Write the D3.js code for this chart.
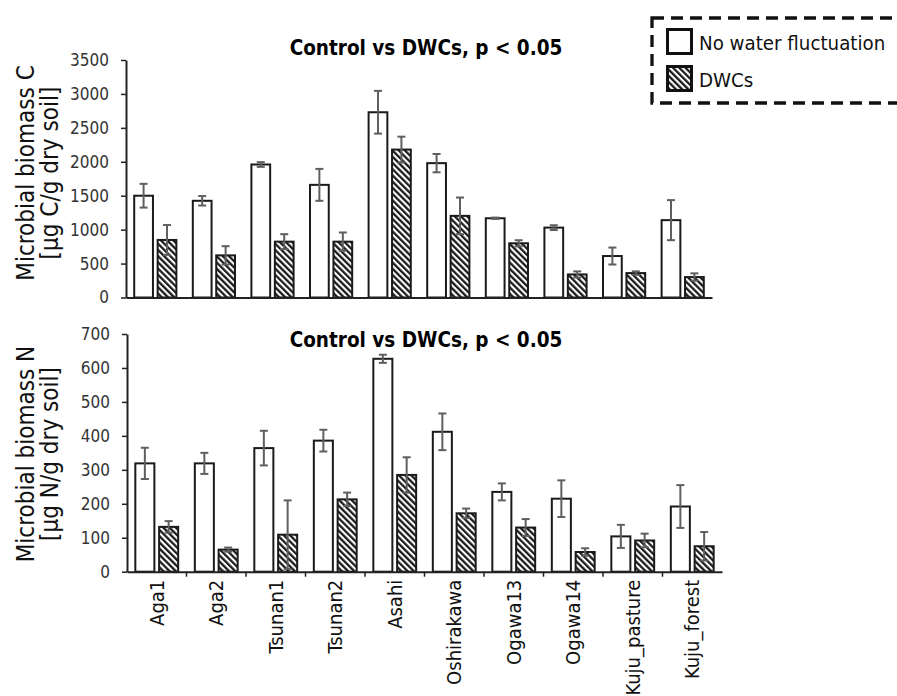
<!DOCTYPE html>
<html>
<head>
<meta charset="utf-8">
<script src="https://cdn.jsdelivr.net/npm/d3@7"></script>
<style>
  body { margin: 0; background: white; }
  text { font-family: "DejaVu Sans Condensed", "DejaVu Sans", sans-serif; font-stretch: condensed; }
</style>
</head>
<body>
<div id="chart"></div>
<script>
// 1: DATA
const sites = ["Aga1", "Aga2", "Tsunan1", "Tsunan2", "Asahi", "Oshirakawa", "Ogawa13", "Ogawa14", "Kuju_pasture", "Kuju_forest"];
const seriesNames = ["No water fluctuation", "DWCs"];

const carbonControl = [1500, 1425, 1960, 1660, 2730, 1980, 1168, 1030, 611, 1140];
const carbonControlErr = [175, 70, 35, 235, 315, 135, 10, 35, 125, 295];
const carbonDWC = [848, 621, 823, 823, 2180, 1203, 799, 340, 360, 301];
const carbonDWCErr = [220, 135, 110, 135, 190, 270, 45, 45, 25, 55];

const nitrogenControl = [319, 319, 364, 386, 627, 412, 235, 215, 104, 192];
const nitrogenControlErr = [46, 31, 51, 32, 12, 54, 25, 54, 34, 63];
const nitrogenDWC = [132, 65, 109, 213, 285, 172, 130, 58, 92, 75];
const nitrogenDWCErr = [17, 6, 101, 20, 52, 14, 25, 11, 20, 42];

const carbonTicks = [0, 500, 1000, 1500, 2000, 2500, 3000, 3500];
const nitrogenTicks = [0, 100, 200, 300, 400, 500, 600, 700];

const titleText = "Control vs DWCs, p < 0.05";

// 2: SVG
const W = 897, H = 696;
const svg = d3.select("#chart")
    .append("svg")
    .attr("width", W)
    .attr("height", H);

// hatch pattern for DWCs bars
svg.append("defs").append("pattern")
    .attr("id", "hatch")
    .attr("patternUnits", "userSpaceOnUse")
    .attr("width", 4.4)
    .attr("height", 4.4)
    .attr("patternTransform", "rotate(-45)")
    .call(p => {
        p.append("rect").attr("width", 4.4).attr("height", 4.4).attr("fill", "white");
        p.append("line").attr("x1", 1.2).attr("x2", 1.2).attr("y1", 0).attr("y2", 4.4)
            .attr("stroke", "#111").attr("stroke-width", 2.2);
    });

// 3: ONE PANEL
function drawPanel(cfg) {
    const x = d3.scaleBand().domain(sites).range(cfg.xRange).padding(0);
    const y = d3.scaleLinear().domain([0, cfg.max]).range(cfg.yRange);
    const bw = x.bandwidth();
    const barW = bw * 0.32, gap = bw * 0.08;

    const rows = sites.map((s, i) => ({
        site: s,
        bars: [
            { v: cfg.control[i], e: cfg.controlErr[i], fill: "white", off: -gap / 2 - barW },
            { v: cfg.dwc[i], e: cfg.dwcErr[i], fill: "url(#hatch)", off: gap / 2 }
        ]
    }));

    const g = svg.append("g");

    // bars
    const grp = g.selectAll(".site")
        .data(rows)
        .enter()
        .append("g")
        .attr("transform", d => `translate(${x(d.site) + bw / 2},0)`);

    grp.selectAll("rect")
        .data(d => d.bars)
        .enter()
        .append("rect")
        .attr("x", d => d.off)
        .attr("y", d => y(d.v))
        .attr("width", barW)
        .attr("height", d => y(0) - y(d.v))
        .attr("fill", d => d.fill)
        .attr("stroke", "#1a1a1a")
        .attr("stroke-width", 2);

    // error bars
    const eb = grp.selectAll(".err")
        .data(d => d.bars)
        .enter()
        .append("g")
        .attr("stroke", "#5f5f5f")
        .attr("stroke-width", 2);
    eb.append("line")
        .attr("x1", d => d.off + barW / 2).attr("x2", d => d.off + barW / 2)
        .attr("y1", d => y(d.v + d.e)).attr("y2", d => y(Math.max(0, d.v - d.e)));
    eb.append("line")
        .attr("x1", d => d.off + barW / 2 - 4).attr("x2", d => d.off + barW / 2 + 4)
        .attr("y1", d => y(d.v + d.e)).attr("y2", d => y(d.v + d.e));
    eb.append("line")
        .attr("x1", d => d.off + barW / 2 - 4).attr("x2", d => d.off + barW / 2 + 4)
        .attr("y1", d => y(Math.max(0, d.v - d.e))).attr("y2", d => y(Math.max(0, d.v - d.e)));

    // y axis
    const yAxis = g.append("g")
        .attr("transform", `translate(${cfg.xRange[0]},0)`)
        .call(d3.axisLeft(y).tickValues(cfg.ticks).tickFormat(d3.format("d"))
            .tickSize(5).tickPadding(12).tickSizeOuter(0));
    yAxis.select(".domain").attr("stroke", "#222").attr("stroke-width", 2);
    yAxis.selectAll(".tick line").attr("stroke", "#222").attr("stroke-width", 1.5);
    yAxis.selectAll(".tick text").attr("fill", "#333").style("font-size", "17px");

    // x axis
    const xAxis = g.append("g")
        .attr("transform", `translate(0,${y(0)})`)
        .call(d3.axisBottom(x).tickSize(0).tickSizeOuter(0).tickFormat(""));
    xAxis.select(".domain").attr("stroke", "#222").attr("stroke-width", 2);

    if (cfg.labels) {
        // tick marks between categories
        xAxis.selectAll(".sep")
            .data(sites.slice(1))
            .enter()
            .append("line")
            .attr("x1", d => x(d)).attr("x2", d => x(d))
            .attr("y1", 0).attr("y2", 5)
            .attr("stroke", "#222").attr("stroke-width", 1.5);

        g.selectAll(".xlab")
            .data(sites)
            .enter()
            .append("text")
            .attr("transform", d => `translate(${x(d) + bw / 2},${y(0) + 8}) rotate(-90)`)
            .attr("dy", "0.35em")
            .attr("text-anchor", "end")
            .style("font-size", "20px")
            .attr("fill", "#111")
            .text(d => d);
    }

    // title
    g.append("text")
        .attr("x", 426)
        .attr("y", cfg.titleY)
        .attr("text-anchor", "middle")
        .style("font-size", "20.5px")
        .style("font-weight", "bold")
        .text(titleText);

    // y axis title
    const ty = g.append("text")
        .attr("transform", `translate(0,${cfg.labelY}) rotate(-90)`)
        .attr("text-anchor", "middle")
        .style("font-size", "24px")
        .attr("fill", "#111");
    ty.append("tspan").attr("x", 0).attr("y", 34).text(cfg.label1);
    ty.append("tspan").attr("x", 0).attr("y", 58).text(cfg.label2);
}

drawPanel({
    control: carbonControl, controlErr: carbonControlErr,
    dwc: carbonDWC, dwcErr: carbonDWCErr,
    max: 3500, ticks: carbonTicks,
    xRange: [126, 712], yRange: [297.5, 60],
    titleY: 55, labelY: 173,
    label1: "Microbial biomass C", label2: "[µg C/g dry soil]",
    labels: false
});

drawPanel({
    control: nitrogenControl, controlErr: nitrogenControlErr,
    dwc: nitrogenDWC, dwcErr: nitrogenDWCErr,
    max: 700, ticks: nitrogenTicks,
    xRange: [127, 722], yRange: [571.7, 334],
    titleY: 347, labelY: 454,
    label1: "Microbial biomass N", label2: "[µg N/g dry soil]",
    labels: true
});

// 4: LEGEND
const legend = svg.append("g");
legend.append("rect")
    .attr("x", 652).attr("y", 18)
    .attr("width", 300).attr("height", 85)
    .attr("fill", "none")
    .attr("stroke", "#111")
    .attr("stroke-width", 3.3)
    .attr("stroke-dasharray", "12,7");

const legendFills = ["white", "url(#hatch)"];
seriesNames.forEach((name, i) => {
    legend.append("rect")
        .attr("x", 667.5).attr("y", 29.5 + i * 37)
        .attr("width", 24).attr("height", 24)
        .attr("fill", legendFills[i])
        .attr("stroke", "#111")
        .attr("stroke-width", 3);
    legend.append("text")
        .attr("x", 699).attr("y", 50 + i * 37)
        .style("font-size", "20.3px")
        .attr("fill", "#111")
        .text(name);
});
</script>
</body>
</html>
